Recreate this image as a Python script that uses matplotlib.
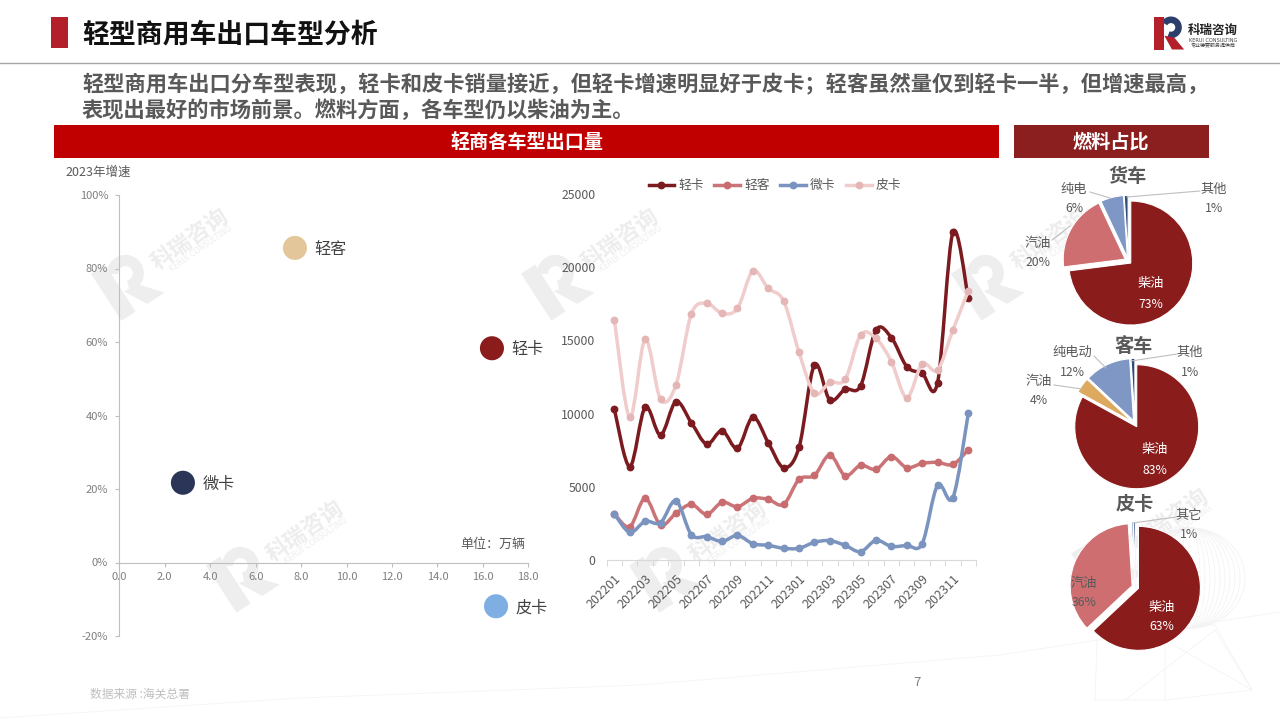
import matplotlib
matplotlib.use('Agg')
import matplotlib.pyplot as plt
import matplotlib.patches as patches
from matplotlib.lines import Line2D
from matplotlib.path import Path
import numpy as np

plt.rcParams['font.family'] = ['Noto Sans CJK SC', 'DejaVu Sans']

# Data
months = ['202201', '202202', '202203', '202204', '202205', '202206', '202207', '202208',
          '202209', '202210', '202211', '202212', '202301', '202302', '202303', '202304',
          '202305', '202306', '202307', '202308', '202309', '202310', '202311', '202312']
light_truck = [10290, 6380, 10430, 8540, 10810, 9380, 7920, 8830, 7630, 9750, 8010, 6310,
               7700, 13320, 10930, 11660, 11890, 15710, 15190, 13210, 12750, 12110, 22380, 17870]
light_bus = [3140, 2280, 4210, 2390, 3190, 3800, 3120, 3940, 3640, 4210, 4140, 3800,
             5510, 5780, 7170, 5760, 6470, 6190, 7060, 6310, 6600, 6670, 6530, 7530]
micro_truck = [3140, 1890, 2640, 2550, 4050, 1730, 1590, 1270, 1680, 1110, 1000, 800,
               800, 1210, 1320, 1000, 570, 1340, 930, 1000, 1110, 5100, 4260, 10020]
pickup = [16390, 9750, 15070, 10970, 11950, 16800, 17530, 16850, 17190, 19740, 18550, 17690,
          14180, 11380, 12130, 12340, 15370, 15140, 13550, 11090, 13390, 12980, 15710, 18390]

scatter_names = ['轻客', '轻卡', '微卡', '皮卡']
scatter_volume = [7.73, 16.4, 2.8, 16.58]
scatter_growth = [85.6, 58.3, 21.7, -11.9]

truck_fuel = [73, 20, 6, 1]
bus_fuel = [83, 4, 12, 1]
pickup_fuel = [63, 36, 0.5, 0.5]

W, H = 1280, 720
fig = plt.figure(figsize=(12.8, 7.2), dpi=100, facecolor='white')


def px_axes(left, top, right, bottom, zorder=1):
    ax = fig.add_axes([left / W, 1 - bottom / H, (right - left) / W, (bottom - top) / H], zorder=zorder)
    ax.patch.set_alpha(0)
    return ax


def overlay(zorder):
    ax = px_axes(0, 0, W, H, zorder)
    ax.set_xlim(0, W)
    ax.set_ylim(H, 0)
    ax.axis('off')
    return ax


bg = overlay(0)
fg = overlay(5)


def draw_r(ax, cx, cy, size, angle, stem_c, bowl_c, leg_c):
    # R mark drawn in a unit box, then rotated and moved to pixels
    th = np.radians(angle)

    def place(pts):
        pts = np.array(pts, dtype=float) - [0.4, 0.5]
        x = pts[:, 0] * np.cos(th) - pts[:, 1] * np.sin(th)
        y = pts[:, 0] * np.sin(th) + pts[:, 1] * np.cos(th)
        return np.column_stack([cx + x * size, cy - y * size])

    t = np.radians(np.linspace(-110, 150, 40))
    outer = np.column_stack([0.52 + 0.33 * np.cos(t), 0.67 + 0.33 * np.sin(t)])
    inner = np.column_stack([0.52 + 0.13 * np.cos(t[::-1]), 0.67 + 0.13 * np.sin(t[::-1])])
    ax.add_patch(patches.Polygon(place(np.vstack([outer, inner])), fc=bowl_c, ec='none'))
    ax.add_patch(patches.Polygon(place([[0.32, 0.42], [0.62, 0.36], [0.92, 0], [0.55, 0]]), fc=leg_c, ec='none'))
    ax.add_patch(patches.Polygon(place([[0, 0], [0.3, 0], [0.3, 1], [0, 1]]), fc=stem_c, ec='none'))


# Watermarks
for rx, ry in [(125, 285), (555, 285), (985, 285), (240, 577), (663, 577), (1105, 565)]:
    draw_r(bg, rx, ry, 56, 33, '#EEEEEE', '#EEEEEE', '#EEEEEE')
    bg.text(rx + 65, ry - 46, '科瑞咨询', fontsize=16, fontweight='bold', color='#EDEDED',
            rotation=35, ha='center', va='center')
    bg.text(rx + 76, ry - 36, 'KERUI CONSULTING', fontsize=5.5, color='#EDEDED',
            rotation=35, ha='center', va='center', family='DejaVu Sans')

# Faint backdrop at bottom right
t = np.linspace(0, 2 * np.pi, 100)
for r in np.linspace(10, 55, 10):
    bg.plot(1190 + r * np.cos(t), 578 + 50 * np.sin(t), color='#F3F3F3', lw=0.6)
for xs, ys in [([0, 300, 640, 1000, 1280], [718, 698, 685, 655, 612]),
               ([1095, 1097, 1165, 1165, 1095], [700, 640, 640, 700, 700]),
               ([1125, 1215, 1252, 1165], [700, 630, 690, 640]),
               ([1165, 1252, 1215, 1125], [700, 690, 625, 625])]:
    bg.plot(xs, ys, color='#F4F4F4', lw=0.6)

# Header
bg.add_patch(patches.Rectangle((51, 17), 17, 31, fc='#B3202A', ec='none'))
bg.text(82, 35, '轻型商用车出口车型分析', fontsize=19.4, fontweight='bold', color='#111111', va='center')
bg.plot([0, W], [63, 63], color='#A6A6A6', lw=1)
draw_r(bg, 1167, 33, 33, 0, '#B3202A', '#2C3E6B', '#B3202A')
bg.text(1213, 30, '科瑞咨询', fontsize=9, fontweight='bold', color='#222222', ha='center', va='center')
bg.text(1213, 41, 'KERUI CONSULTING', fontsize=3.6, color='#444444', ha='center', va='center', family='DejaVu Sans')
bg.text(1213, 46, '专业德要服务提供商', fontsize=3.6, color='#444444', ha='center', va='center')

bg.text(82, 84, '轻型商用车出口分车型表现，轻卡和皮卡销量接近，但轻卡增速明显好于皮卡；轻客虽然量仅到轻卡一半，但增速最高，',
        fontsize=15.3, fontweight='bold', color='#595959', va='center')
bg.text(82, 110, '表现出最好的市场前景。燃料方面，各车型仍以柴油为主。',
        fontsize=15.3, fontweight='bold', color='#595959', va='center')

bg.add_patch(patches.Rectangle((54, 125), 945, 33, fc='#C00000', ec='none'))
bg.text(527, 142, '轻商各车型出口量', fontsize=13.8, fontweight='bold', color='white', ha='center', va='center')
bg.add_patch(patches.Rectangle((1014, 125), 195, 33, fc='#8B1E1E', ec='none'))
bg.text(1111, 142, '燃料占比', fontsize=13.8, fontweight='bold', color='white', ha='center', va='center')

bg.text(90, 694, '数据来源 :海关总署', fontsize=8.5, color='#BFBFBF', va='center')
bg.text(917, 682, '7', fontsize=9.5, color='#7F7F7F', ha='center', va='center')

# Scatter: volume against 2023 growth
ax1 = px_axes(119.3, 195, 528.3, 636)
ax1.set_xlim(0, 18)
ax1.set_ylim(-20, 100)
scatter_colors = ['#E3C79B', '#8B1C1C', '#2B3557', '#7FAEE3']
ax1.scatter(scatter_volume, scatter_growth, s=300, c=scatter_colors, linewidths=0, clip_on=False, zorder=3)
for name, vx, vy in zip(scatter_names, scatter_volume, scatter_growth):
    ax1.annotate(name, (vx, vy), xytext=(14, -1.2), textcoords='offset points', fontsize=11.6,
                 color='#404040', va='center', annotation_clip=False)
for side in ['top', 'right']:
    ax1.spines[side].set_visible(False)
ax1.spines['bottom'].set_position(('data', 0))
ax1.spines['left'].set_color('#BFBFBF')
ax1.spines['bottom'].set_color('#BFBFBF')
ax1.set_xticks(np.arange(0, 19, 2))
ax1.set_xticklabels([f'{v:.1f}' for v in np.arange(0, 19, 2)])
ax1.set_yticks(np.arange(-20, 101, 20))
ax1.set_yticklabels([f'{v}%' for v in range(-20, 101, 20)])
ax1.tick_params(axis='both', length=3, width=0.8, color='#BFBFBF', labelcolor='#7F7F7F', labelsize=8)
ax1.tick_params(axis='x', pad=4)
ax1.tick_params(axis='y', pad=5)
bg.text(65, 172, '2023年增速', fontsize=9, color='#595959', va='center')
bg.text(460, 544, '单位：万辆', fontsize=9.4, color='#595959', va='center')

# Monthly lines
ax2 = px_axes(606.7, 194, 976, 560)
ax2.set_xlim(-0.5, 23.5)
ax2.set_ylim(0, 25000)


def smooth_path(values):
    # same kind of curve as a smoothed office chart line, runs through every value
    pts = np.column_stack([np.arange(len(values)), np.array(values, dtype=float)])
    verts = [pts[0]]
    codes = [Path.MOVETO]
    for i in range(len(pts) - 1):
        p0 = pts[max(i - 1, 0)]
        p1 = pts[i]
        p2 = pts[i + 1]
        p3 = pts[min(i + 2, len(pts) - 1)]
        verts += [p1 + (p2 - p0) / 6, p2 - (p3 - p1) / 6, p2]
        codes += [Path.CURVE4] * 3
    return Path(verts, codes)


line_series = [('轻卡', light_truck, '#7B1B1F', '#7B1B1F'),
               ('轻客', light_bus, '#CB7478', '#C96C70'),
               ('微卡', micro_truck, '#7A93BF', '#7A93BF'),
               ('皮卡', pickup, '#F0CCCC', '#E4B6B6')]
x_idx = np.arange(len(months))
handles = []
for z, (name, vals, col, mcol) in enumerate(line_series):
    ax2.add_patch(patches.PathPatch(smooth_path(vals), fc='none', ec=col, lw=2.5, capstyle='round', zorder=3 + z))
    ax2.plot(x_idx, vals, ls='none', marker='o', ms=4.6, mfc=mcol, mec=mcol, zorder=3 + z, clip_on=False)
    handles.append(Line2D([0], [0], color=col, lw=2.5, marker='o', ms=4.6, mfc=mcol, mec=mcol, label=name))
ax2.legend(handles=handles, loc='center', bbox_to_anchor=(0.456, 1.022),
           ncol=4, frameon=False, fontsize=9.2, labelcolor='#595959', handlelength=2,
           handletextpad=0.35, columnspacing=0.8)
for side in ['top', 'right', 'left']:
    ax2.spines[side].set_visible(False)
ax2.spines['bottom'].set_color('#D9D9D9')
ax2.set_yticks(np.arange(0, 25001, 5000))
ax2.tick_params(axis='y', length=0, labelsize=8.8, labelcolor='#595959', pad=8)
ax2.set_xticks(x_idx[::2])
ax2.set_xticklabels(months[::2], rotation=45, ha='right', rotation_mode='anchor')
ax2.set_xticks(np.arange(-0.5, 24, 1), minor=True)
ax2.tick_params(axis='x', which='major', length=0, labelsize=9, labelcolor='#595959', pad=9)
ax2.tick_params(axis='x', which='minor', length=4, width=0.7, color='#D9D9D9')

# Fuel share pies
RADIUS = 62
HALF = 74


def draw_pie(cx, cy, values, colors):
    ax = px_axes(cx - HALF, cy - HALF, cx + HALF, cy + HALF, 2)
    ax.pie(values, colors=colors, startangle=90, counterclock=False, radius=1,
           explode=[0.055] * len(values), wedgeprops=dict(edgecolor='white', linewidth=0.8))
    ax.set_xlim(-HALF / RADIUS, HALF / RADIUS)
    ax.set_ylim(-HALF / RADIUS, HALF / RADIUS)
    ax.set_aspect('equal')


draw_pie(1128.2, 260.8, truck_fuel, ['#8B1C1C', '#CF6E70', '#7F97C4', '#2F4A78'])
draw_pie(1135, 423.8, bus_fuel, ['#8B1C1C', '#DCA95E', '#7F97C4', '#2F4A78'])
draw_pie(1135.3, 587, pickup_fuel, ['#8B1C1C', '#CF6E70', '#7F97C4', '#2F4A78'])

for text, x, y in [('货车', 1128, 177), ('客车', 1134, 346), ('皮卡', 1135, 505)]:
    fg.text(x, y, text, fontsize=13.8, fontweight='bold', color='#595959', ha='center', va='center')

pie_labels = [('柴油', '73%', 1151, 284, 'white'), ('汽油', '20%', 1038, 243, '#595959'),
              ('纯电', '6%', 1074, 189, '#595959'), ('其他', '1%', 1214, 189, '#595959'),
              ('柴油', '83%', 1155, 450, 'white'), ('汽油', '4%', 1039, 381, '#595959'),
              ('纯电动', '12%', 1072, 352, '#595959'), ('其他', '1%', 1190, 352, '#595959'),
              ('柴油', '63%', 1162, 607, 'white'), ('汽油', '36%', 1084, 583, '#595959'),
              ('其它', '1%', 1189, 515, '#595959')]
for name, pct, x, y, col in pie_labels:
    fg.text(x, y, name, fontsize=9.5, color=col, ha='center', va='center')
    fg.text(x, y + 20, pct, fontsize=8.8, color=col, ha='center', va='center')

leaders = [((1052, 240), (1070, 226)), ((1090, 192), (1110, 198)), ((1200, 191), (1127, 197)),
           ((1054, 385), (1082, 389)), ((1094, 356), (1106, 368)), ((1177, 354), (1131, 361)),
           ((1176, 517), (1133, 523))]
for (x0, y0), (x1, y1) in leaders:
    fg.plot([x0, x1], [y0, y1], color='#BFBFBF', lw=0.8)

fig.savefig('out.png', dpi=100)
